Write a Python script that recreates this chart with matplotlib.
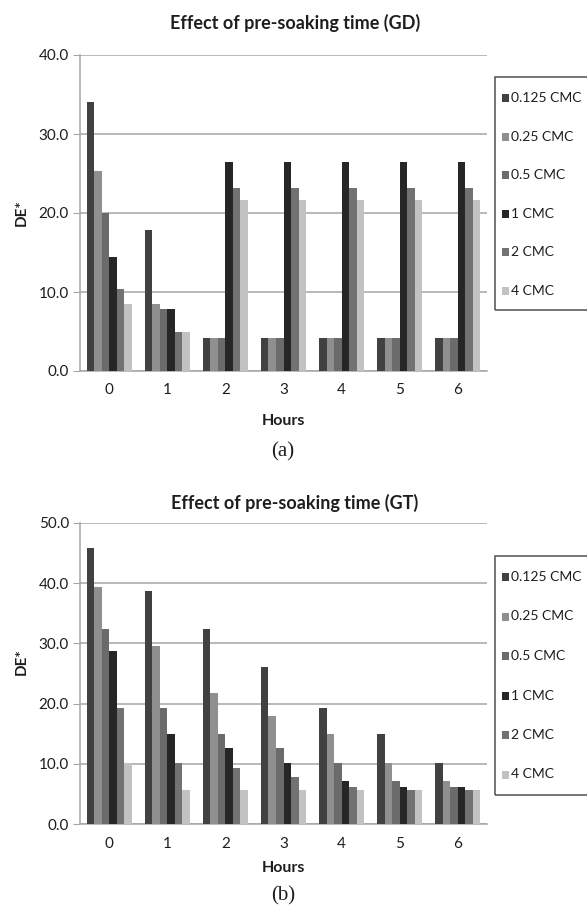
import numpy as np
import matplotlib
matplotlib.use("Agg")
import matplotlib.pyplot as plt
from matplotlib.patches import Rectangle

# DE* readings for each CMC concentration over pre-soaking hours
hours = ["0", "1", "2", "3", "4", "5", "6"]
series = ["0.125 CMC", "0.25 CMC", "0.5 CMC", "1 CMC", "2 CMC", "4 CMC"]

gd_0125 = [34.0, 17.8, 4.2, 4.2, 4.2, 4.2, 4.2]
gd_025 = [25.3, 8.5, 4.2, 4.2, 4.2, 4.2, 4.2]
gd_05 = [20.0, 7.8, 4.2, 4.2, 4.2, 4.2, 4.2]
gd_1 = [14.4, 7.8, 26.5, 26.5, 26.5, 26.5, 26.5]
gd_2 = [10.4, 4.9, 23.2, 23.2, 23.2, 23.2, 23.2]
gd_4 = [8.5, 4.9, 21.6, 21.6, 21.6, 21.6, 21.6]

gt_0125 = [45.8, 38.7, 32.4, 26.0, 19.3, 14.9, 10.2]
gt_025 = [39.4, 29.6, 21.8, 18.0, 14.9, 10.2, 7.1]
gt_05 = [32.4, 19.3, 14.9, 12.6, 10.2, 7.1, 6.1]
gt_1 = [28.8, 14.9, 12.6, 10.2, 7.1, 6.1, 6.1]
gt_2 = [19.3, 10.2, 9.3, 7.8, 6.1, 5.6, 5.6]
gt_4 = [10.2, 5.6, 5.6, 5.6, 5.6, 5.6, 5.6]

colors = ["#414141", "#8f8f8f", "#6b6b6b", "#262626", "#727272", "#c2c2c2"]

SANS = ["Lato", "DejaVu Sans"]
SERIF = ["Liberation Serif", "DejaVu Serif"]
GRID = "#a6a6a6"
INK = "#1e1e1e"

W, H = 587, 909
fig = plt.figure(figsize=(W / 100, H / 100), dpi=100)


def fx(px):
    return px / W


def fy(py):
    return 1 - py / H


def panel(top, bottom, data, ymax, title, title_y, hours_y, cap, cap_y,
          de_y, leg_top, leg_bot, leg_first, leg_gap):
    ax = fig.add_axes([fx(80), fy(bottom), fx(487) - fx(80), fy(top) - fy(bottom)])
    x = np.arange(len(hours))
    bw = 0.129
    for i, (vals, lab) in enumerate(zip(data, series)):
        ax.bar(x + (i - 2.5) * bw, vals, width=bw, color=colors[i], label=lab,
               zorder=3, linewidth=0)
    ax.set_xlim(-0.5, len(hours) - 0.5)
    ax.set_ylim(0, ymax)
    ax.set_yticks(np.arange(0, ymax + 1, 10))
    ax.set_yticklabels(["%.1f" % v for v in np.arange(0, ymax + 1, 10)],
                       family=SANS, fontsize=11, color=INK)
    ax.set_xticks(x)
    ax.set_xticklabels(hours, family=SANS, fontsize=11, color=INK)
    ax.tick_params(axis="y", length=5, color=GRID, pad=3)
    ax.tick_params(axis="x", length=0, pad=9)
    ax.grid(axis="y", color=GRID, linewidth=1.1, zorder=0)
    for s in ["top", "right"]:
        ax.spines[s].set_visible(False)
    for s in ["left", "bottom"]:
        ax.spines[s].set_color(GRID)
        ax.spines[s].set_linewidth(1.1)

    fig.text(fx(295), fy(title_y), title, family=SANS, fontsize=13,
             fontweight="bold", ha="center", va="center", color=INK)
    fig.text(fx(283), fy(hours_y), "Hours", family=SANS, fontsize=11.5,
             fontweight="bold", ha="center", va="center", color=INK)
    fig.text(fx(22), fy(de_y), "DE*", family=SANS, fontsize=11,
             fontweight="bold", ha="center", va="center", rotation=90, color=INK)
    fig.text(fx(283), fy(cap_y), cap, family=SERIF, fontsize=15,
             ha="center", va="center", color=INK)

    # legend box runs off the right edge; entries placed one by one
    fig.patches.append(Rectangle((fx(495), fy(leg_bot)), 0.2, fy(leg_top) - fy(leg_bot),
                                 transform=fig.transFigure, fill=False,
                                 edgecolor="#505050", linewidth=1.1))
    for i, lab in enumerate(series):
        yc = leg_first + i * leg_gap
        fig.patches.append(Rectangle((fx(502), fy(yc + 4)), fx(7), fy(yc - 4) - fy(yc + 4),
                                     transform=fig.transFigure, facecolor=colors[i],
                                     edgecolor="none"))
        fig.text(fx(511), fy(yc), lab, family=SANS, fontsize=10, color=INK,
                 ha="left", va="center")
    return ax


panel(55, 371, [gd_0125, gd_025, gd_05, gd_1, gd_2, gd_4], 40,
      "Effect of pre-soaking time (GD)", 23, 421, "(a)", 452, 213, 77, 310, 98, 38.6)
panel(523, 824, [gt_0125, gt_025, gt_05, gt_1, gt_2, gt_4], 50,
      "Effect of pre-soaking time (GT)", 503, 868, "(b)", 896, 662, 556, 795, 577, 39.5)

fig.savefig("out.png", dpi=100)
